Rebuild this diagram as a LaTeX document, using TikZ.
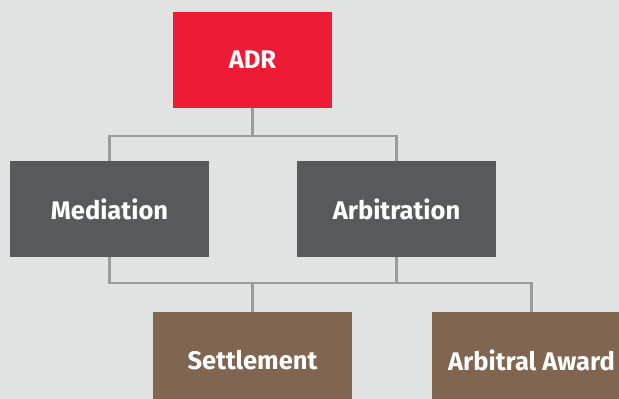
\documentclass[tikz,border=0pt]{standalone}
\usepackage{fontspec}
\setmainfont{Fira Sans}
\definecolor{bgc}{HTML}{E1E3E2}
\definecolor{adrred}{HTML}{EE1B36}
\definecolor{dgrey}{HTML}{58595B}
\definecolor{brownc}{HTML}{806550}
\definecolor{linec}{HTML}{9A9B9D}
\tikzset{
  box/.style={draw=none, minimum width=199pt, minimum height=96pt, inner sep=0pt,
    text=white, font=\fontsize{25.5}{30}\selectfont\bfseries},
  conn/.style={draw=linec, line width=2.2pt}
}
\begin{document}
\begin{tikzpicture}[x=1pt,y=-1pt]
\fill[bgc] (0,0) rectangle (619,399);
\useasboundingbox (0,0) rectangle (619,399);
\node[box, fill=adrred, minimum width=159pt] (adr) at (252.5,60) {ADR};
\node[box, fill=dgrey] (med) at (109.5,209) {Mediation};
\node[box, fill=dgrey] (arb) at (396.5,209) {Arbitration};
\node[box, fill=brownc] (set) at (252.5,360) {Settlement};
\node[box, fill=brownc] (awd) at (531.5,360) {Arbitral Award};
\coordinate (j1) at (252.5,136);
\coordinate (j2) at (252.5,283);
\draw[conn] (adr.south) -- (j1);
\draw[conn] (med.north) -- (med.north |- j1) -- (arb.north |- j1) -- (arb.north);
\draw[conn] (med.south) -- (med.south |- j2) -- (awd.north |- j2) -- (awd.north);
\draw[conn] (arb.south) -- (arb.south |- j2);
\draw[conn] (j2) -- (set.north);
\end{tikzpicture}
\end{document}
